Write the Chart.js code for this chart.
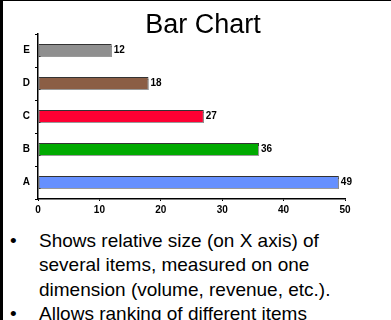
<!DOCTYPE html>
<html>
<head>
<meta charset="utf-8">
<script src="https://cdn.jsdelivr.net/npm/chart.js@4/dist/chart.umd.min.js"></script>
<style>
  html, body { margin: 0; padding: 0; background: #fff; }
  body { width: 391px; height: 320px; overflow: hidden; position: relative;
         font-family: "Liberation Sans", Arial, sans-serif; }
  .frame-left { position: absolute; left: 0; top: 0; width: 3px; height: 320px; background: #000; }
  .frame-top { position: absolute; left: 0; top: 0; width: 391px; height: 1px; background: #000; }
  #wrap { position: absolute; left: 0; top: 0; width: 391px; height: 225px; }
  .title { position: absolute; left: 0; width: 406px; top: 9px; text-align: center;
           font-size: 27px; color: #000; }
  .bullets { position: absolute; left: 0; top: 229px; font-size: 19px; line-height: 24.3px; color: #000; }
  .bullets div { position: relative; padding-left: 39px; white-space: nowrap; }
  .bullets div.b::before { content: "\2022"; position: absolute; left: 10px; }
</style>
</head>
<body>
<div id="wrap"><canvas id="c"></canvas></div>
<div class="title">Bar Chart</div>
<div class="bullets">
  <div class="b">Shows relative size (on X axis) of</div>
  <div>several items, measured on one</div>
  <div>dimension (volume, revenue, etc.).</div>
  <div class="b">Allows ranking of different items</div>
</div>
<div class="frame-left"></div>
<div class="frame-top"></div>
<script>
// Items, top to bottom as drawn
const categories = ['E', 'D', 'C', 'B', 'A'];
const values = [12, 18, 27, 36, 49];
const barColors = ['#8f8f8f', '#8b5e45', '#ff0033', '#00aa00', '#6690ff'];
const xTicks = [0, 10, 20, 30, 40, 50];

const fontFamily = '"Liberation Sans", Arial, sans-serif';
const labelFont = 'bold 10px ' + fontFamily;

// Gray drop shadow under the bars
const barShadow = {
  id: 'barShadow',
  beforeDatasetsDraw(chart) {
    const ctx = chart.ctx;
    ctx.save();
    ctx.shadowColor = '#9a9a9a';
    ctx.shadowOffsetX = 1;
    ctx.shadowOffsetY = 2;
    ctx.shadowBlur = 0;
  },
  afterDatasetsDraw(chart) {
    chart.ctx.restore();
  }
};

// Value printed just past the end of each bar
const valueLabels = {
  id: 'valueLabels',
  afterDatasetsDraw(chart) {
    const ctx = chart.ctx;
    const meta = chart.getDatasetMeta(0);
    ctx.save();
    ctx.font = labelFont;
    ctx.fillStyle = '#000';
    ctx.textAlign = 'left';
    ctx.textBaseline = 'middle';
    meta.data.forEach((bar, i) => {
      ctx.fillText(String(values[i]), bar.x + 2, bar.y);
    });
    ctx.restore();
  }
};

new Chart(document.getElementById('c'), {
  type: 'bar',
  data: {
    labels: categories,
    datasets: [{
      data: values,
      backgroundColor: barColors,
      borderColor: '#333333',
      borderWidth: 1,
      borderSkipped: false,
      categoryPercentage: 1,
      barPercentage: 0.4
    }]
  },
  options: {
    indexAxis: 'y',
    responsive: true,
    maintainAspectRatio: false,
    animation: false,
    layout: { padding: { left: 4, right: 46, top: 34, bottom: 6 } },
    plugins: {
      legend: { display: false },
      tooltip: { enabled: false },
      title: { display: false }
    },
    scales: {
      x: {
        min: 0, max: 50,
        afterBuildTicks(scale) { scale.ticks = xTicks.map(v => ({ value: v })); },
        afterFit(scale) { scale.height = 20; },
        border: { color: '#000', width: 1.5 },
        grid: { drawOnChartArea: false, drawTicks: true, tickLength: 2, color: '#000' },
        ticks: {
          color: '#000', padding: 3,
          font: { family: fontFamily, size: 10, weight: 'bold' }
        }
      },
      y: {
        offset: true,
        afterFit(scale) { scale.width = 34; },
        border: { color: '#000', width: 1.5 },
        grid: { offset: true, drawOnChartArea: false, drawTicks: true, tickLength: 3, color: '#000' },
        ticks: {
          color: '#000', padding: 5,
          font: { family: fontFamily, size: 10, weight: 'bold' }
        }
      }
    }
  },
  plugins: [barShadow, valueLabels]
});
</script>
</body>
</html>
